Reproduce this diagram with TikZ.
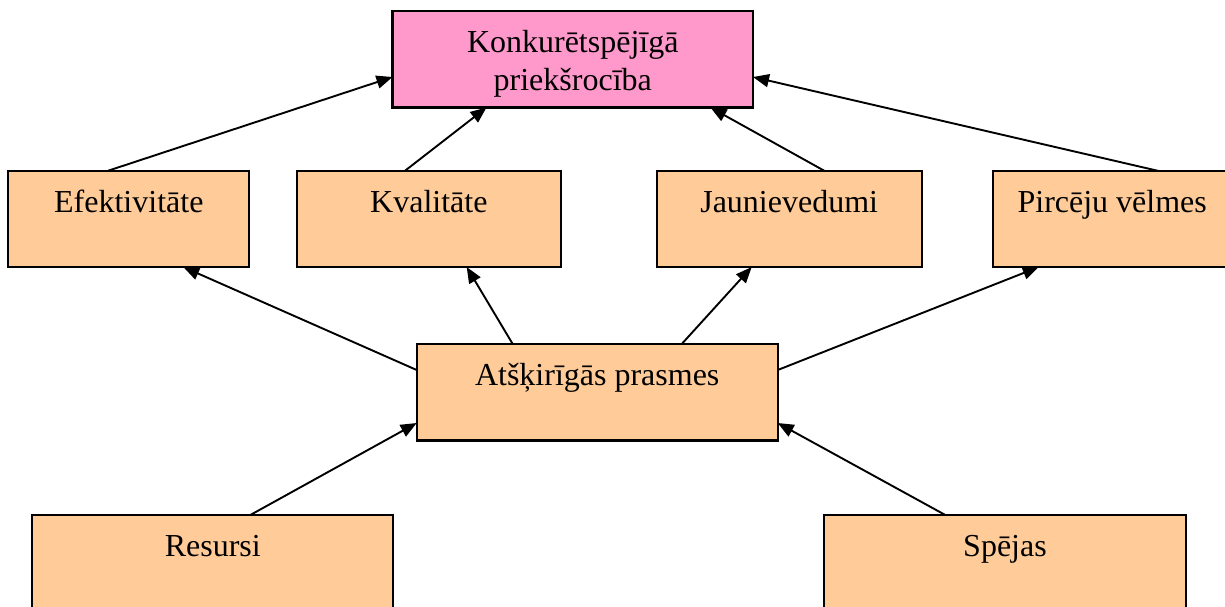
\documentclass[tikz,border=0pt]{standalone}
\usepackage{fontspec}
\setmainfont{Liberation Serif}
\usetikzlibrary{arrows.meta,calc}
\definecolor{pinkfill}{HTML}{FF99CC}
\definecolor{orangefill}{HTML}{FFCC99}
\begin{document}
\begin{tikzpicture}[x=1pt,y=-1pt,
  box/.style={draw=black,line width=2.2pt,fill=orangefill,rectangle,anchor=north west,
    inner sep=0pt,outer sep=0pt,align=center,text height=41pt,
    font=\fontsize{32}{38}\selectfont},
  goalbox/.style={box,fill=pinkfill},
  link/.style={line width=1.9pt,-{Triangle[length=16pt,width=13pt]}}]
\useasboundingbox (0,0) rectangle (1225,606);
\clip (0,0) rectangle (1225,606);

% goal (two lines: the box baseline is the second line)
\node[goalbox,minimum width=360.5pt,minimum height=96.5pt,text height=79pt,text depth=17.5pt]
  (top) at (392.5,11) {Konkurētspējīgā\\priekšrocība};

% sources of advantage
\node[box,minimum width=241pt,minimum height=96pt,text depth=55pt]
  (eff) at (8.3,171) {Efektivitāte};
\node[box,minimum width=264.3pt,minimum height=96pt,text depth=55pt]
  (kva) at (296.7,171) {Kvalitāte};
\node[box,minimum width=265pt,minimum height=96pt,text depth=55pt]
  (jau) at (656.7,171) {Jaunievedumi};
\node[box,minimum width=239pt,minimum height=96pt,text depth=55pt]
  (pir) at (992.7,171) {Pircēju vēlmes};

% core competences
\node[box,minimum width=361pt,minimum height=96.5pt,text depth=55.5pt]
  (ats) at (416.7,344) {Atšķirīgās prasmes};

% foundations
\node[box,minimum width=361pt,minimum height=120pt,text depth=79pt]
  (res) at (32.3,515) {Resursi};
\node[box,minimum width=361.4pt,minimum height=120pt,text depth=79pt]
  (spe) at (824.3,515) {Spējas};

% links to the goal
\draw[link] ($(eff.north west)+(99,0)$) -- ($(top.north west)+(0,66)$);
\draw[link] ($(kva.north west)+(108,0)$) -- ($(top.south west)+(94,0)$);
\draw[link] ($(jau.north west)+(168,0)$) -- ($(top.south west)+(318,0)$);
\draw[link] ($(pir.north west)+(166,0)$) -- ($(top.north east)+(0,66)$);

% competences feed the four sources
\draw[link] ($(ats.north west)+(0,26)$) -- ($(eff.south west)+(175,0)$);
\draw[link] ($(ats.north west)+(96,0)$) -- ($(kva.south west)+(170,0)$);
\draw[link] ($(ats.north west)+(265,0)$) -- ($(jau.south west)+(95,0)$);
\draw[link] ($(ats.north east)+(0,26)$) -- ($(pir.south west)+(46,0)$);

% foundations feed competences
\draw[link] ($(res.north west)+(218,0)$) -- ($(ats.north west)+(0,79)$);
\draw[link] ($(spe.north west)+(121,0)$) -- ($(ats.north east)+(0,79)$);
\end{tikzpicture}
\end{document}
